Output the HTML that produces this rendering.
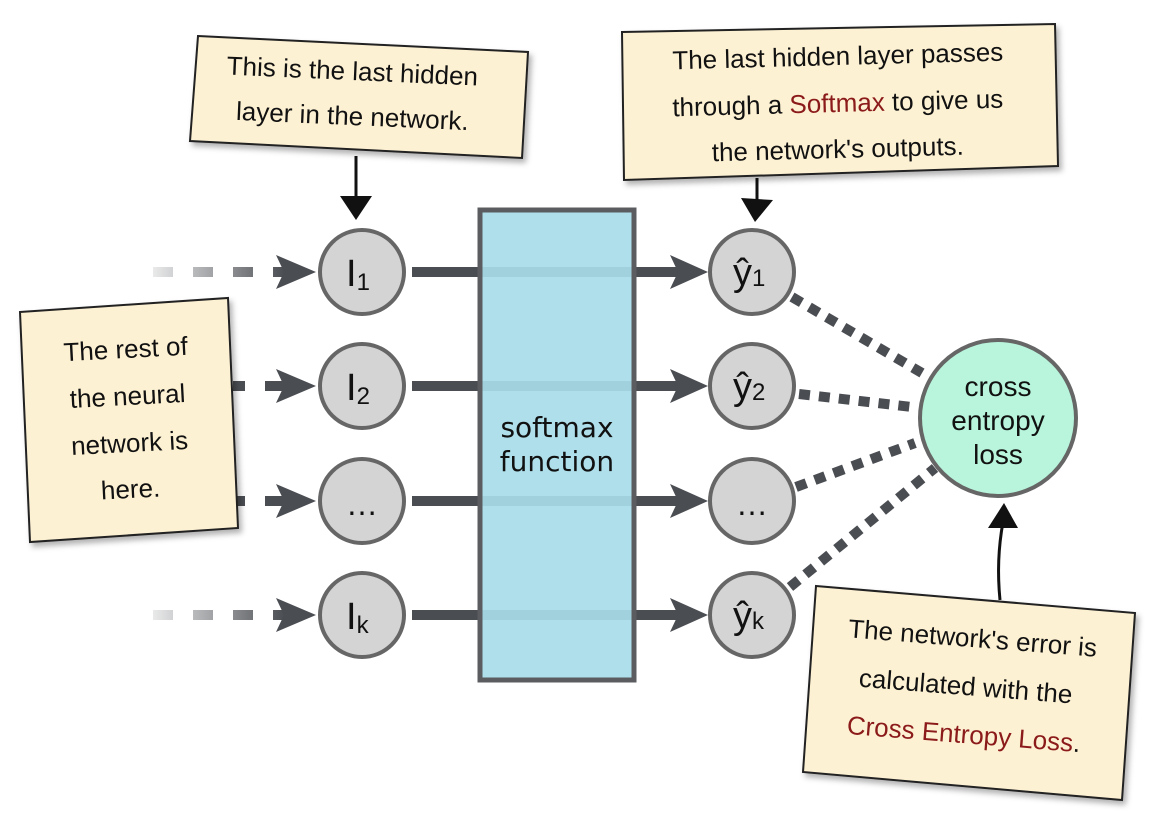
<!DOCTYPE html>
<html><head><meta charset="utf-8"><style>
html,body{margin:0;padding:0;background:#fff;}
svg{display:block;}
text{font-family:"Liberation Sans","DejaVu Sans",sans-serif;}
.n{font-family:"DejaVu Sans","Liberation Sans",sans-serif;fill:#111;}
.h{font-family:"Liberation Sans",sans-serif;fill:#111;font-size:26px;}
.r{fill:#8b1a1a;}
</style></head><body>
<svg width="1171" height="834" viewBox="0 0 1171 834" xmlns="http://www.w3.org/2000/svg">
<defs>
<linearGradient id="fade" gradientUnits="userSpaceOnUse" x1="153" y1="0" x2="285" y2="0"><stop offset="0" stop-color="#4a4d52" stop-opacity="0.12"/><stop offset="1" stop-color="#4a4d52"/></linearGradient>
<filter id="sh" x="-10%" y="-10%" width="130%" height="130%"><feDropShadow dx="3" dy="4" stdDeviation="3" flood-color="#000" flood-opacity="0.3"/></filter>
</defs>
<g stroke-width="10">
<line x1="153" y1="272" x2="285" y2="272" stroke="url(#fade)" stroke-dasharray="20,20"/>
<line x1="233" y1="386" x2="285" y2="386" stroke="#4a4d52" stroke-dasharray="20,20" stroke-dashoffset="8"/>
<line x1="233" y1="501" x2="285" y2="501" stroke="#4a4d52" stroke-dasharray="20,20" stroke-dashoffset="8"/>
<line x1="153" y1="615" x2="285" y2="615" stroke="url(#fade)" stroke-dasharray="20,20"/>
</g>
<g fill="#4a4d52">
<polygon points="276,255 316,272 276,289 284,272"/>
<polygon points="276,369 316,386 276,403 284,386"/>
<polygon points="276,484 316,501 276,518 284,501"/>
<polygon points="276,598 316,615 276,632 284,615"/>
</g>
<g stroke="#4a4d52" stroke-width="10">
<line x1="412" y1="272" x2="680" y2="272"/>
<line x1="412" y1="386" x2="680" y2="386"/>
<line x1="412" y1="501" x2="680" y2="501"/>
<line x1="412" y1="615" x2="680" y2="615"/>
</g>
<rect x="480" y="210" width="154" height="470" fill="#a8dce8" fill-opacity="0.92" stroke="#5a5c60" stroke-width="5"/>
<text x="557" y="437" text-anchor="middle" font-size="28" class="n">softmax</text>
<text x="557" y="471" text-anchor="middle" font-size="28" class="n">function</text>
<g fill="#4a4d52">
<polygon points="670,255 708,272 670,289 678,272"/>
<polygon points="670,369 708,386 670,403 678,386"/>
<polygon points="670,484 708,501 670,518 678,501"/>
<polygon points="670,598 708,615 670,632 678,615"/>
</g>
<g stroke="#4a4d52" stroke-width="10" stroke-dasharray="11,9">
<line x1="792" y1="297" x2="922" y2="373"/>
<line x1="799" y1="394" x2="912" y2="407"/>
<line x1="796" y1="487" x2="915" y2="443"/>
<line x1="790" y1="587" x2="935" y2="468"/>
</g>
<g fill="#d4d4d4" stroke="#666" stroke-width="4">
<circle cx="362" cy="272" r="42"/><circle cx="362" cy="386" r="42"/>
<circle cx="362" cy="501" r="42"/><circle cx="362" cy="615" r="42"/>
<circle cx="752" cy="272" r="42"/><circle cx="752" cy="386" r="42"/>
<circle cx="752" cy="501" r="42"/><circle cx="752" cy="615" r="42"/>
</g>
<g class="n" font-size="38">
<text x="346" y="286">I<tspan font-size="24" dy="4">1</tspan></text>
<text x="346" y="400">I<tspan font-size="24" dy="4">2</tspan></text>
<text x="362" y="515" text-anchor="middle" font-size="32">…</text>
<text x="346" y="629">I<tspan font-size="24" dy="4">k</tspan></text>
<text x="733" y="285">ŷ<tspan font-size="24" dy="1">1</tspan></text>
<text x="733" y="399">ŷ<tspan font-size="24" dy="1">2</tspan></text>
<text x="752" y="515" text-anchor="middle" font-size="32">…</text>
<text x="733" y="628">ŷ<tspan font-size="24" dy="1">k</tspan></text>
</g>
<circle cx="998" cy="418" r="78" fill="#b8f5dc" stroke="#666" stroke-width="4"/>
<g class="n" font-size="28" text-anchor="middle">
<text x="998" y="396">cross</text><text x="998" y="430">entropy</text><text x="998" y="464">loss</text>
</g>
<g stroke="#111" stroke-width="3" fill="none">
<path d="M356 156 L356 200"/><path d="M757 178 L757 200"/><path d="M1000 600 Q996 560 1003 522"/>
</g>
<g fill="#111">
<polygon points="340,196 372,196 356,220"/>
<polygon points="741,198 773,200 755,222"/>
<polygon points="988,528 1018,528 1004,503"/>
</g>
<g fill="#fdf1d3" stroke="#222" stroke-width="2" filter="url(#sh)">
<polygon points="198,36 528,52 522,158 190,141"/>
<polygon points="622,32 1055,24 1058,166 624,180"/>
<polygon points="20,312 228,298 238,528 30,542"/>
<polygon points="816,586 1135,613 1122,800 803,772"/>
</g>
<g class="h" text-anchor="middle">
<text transform="translate(352,80) rotate(2.5)">This is the last hidden</text>
<text transform="translate(352,125) rotate(2.5)">layer in the network.</text>
<text transform="translate(838,65) rotate(-1.5)">The last hidden layer passes</text>
<text transform="translate(838,112) rotate(-1.5)">through a <tspan class="r">Softmax</tspan> to give us</text>
<text transform="translate(838,158) rotate(-1.5)">the network's outputs.</text>
<text transform="translate(126,358) rotate(-3)">The rest of</text>
<text transform="translate(128,405) rotate(-3)">the neural</text>
<text transform="translate(130,452) rotate(-3)">network is</text>
<text transform="translate(131,498) rotate(-3)">here.</text>
<text transform="translate(972,647) rotate(4.5)">The network's error is</text>
<text transform="translate(965,695) rotate(4.5)">calculated with the</text>
<text transform="translate(963,743) rotate(4.5)"><tspan class="r">Cross Entropy Loss</tspan>.</text>
</g>
</svg>
</body></html>
